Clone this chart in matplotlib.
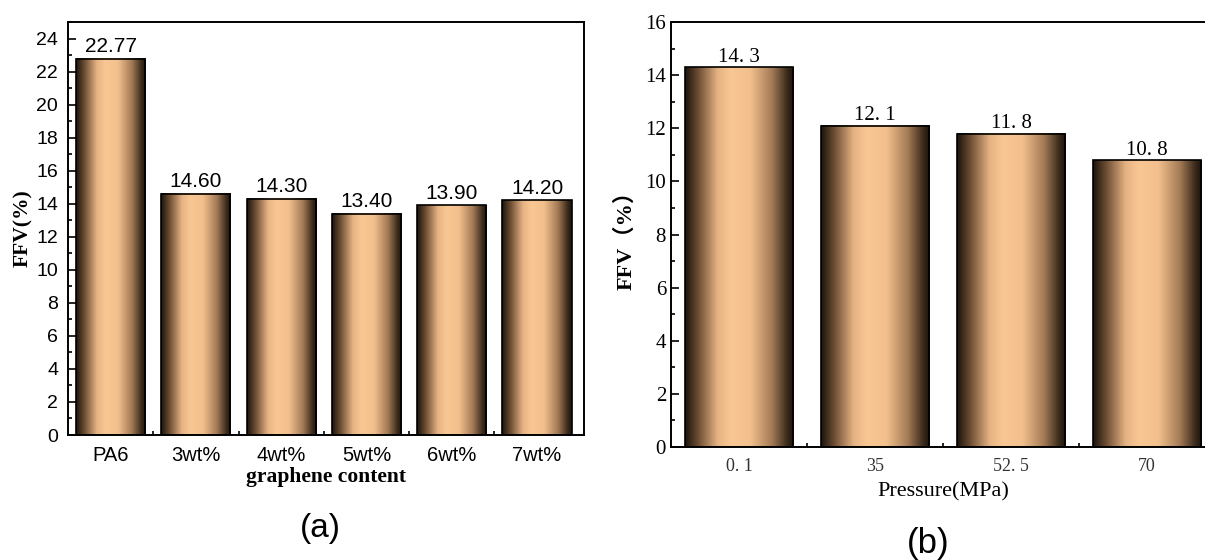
import numpy as np
import matplotlib
matplotlib.use("Agg")
import matplotlib.pyplot as plt
from matplotlib.colors import LinearSegmentedColormap
from matplotlib.ticker import MultipleLocator, FixedLocator

# (a) FFV vs graphene content
contents = ["PA6", "3wt%", "4wt%", "5wt%", "6wt%", "7wt%"]
ffv_content = [22.77, 14.60, 14.30, 13.40, 13.90, 14.20]

# (b) FFV vs pressure
pressures = ["0. 1", "35", "52. 5", "70"]
ffv_pressure = [14.3, 12.1, 11.8, 10.8]

# dark edge -> peach -> dark edge, gives the cylinder look
shade = LinearSegmentedColormap.from_list(
    "copper_tube",
    [(0.0, "#1c140c"), (0.12, "#6b4d33"), (0.30, "#e6b384"), (0.42, "#f9c793"),
     (0.60, "#f3c08d"), (0.80, "#a37b56"), (0.94, "#3b2a1b"), (1.0, "#1c140c")])
grad = np.linspace(0, 1, 256).reshape(1, -1)


def shaded_bars(ax, vals, width):
    x = np.arange(len(vals))
    bars = ax.bar(x, vals, width=width, facecolor="none", edgecolor="black",
                  linewidth=1.2, zorder=3)
    for b in bars:
        x0, w, h = b.get_x(), b.get_width(), b.get_height()
        ax.imshow(grad, cmap=shade, aspect="auto", extent=(x0, x0 + w, 0, h),
                  zorder=2, interpolation="bicubic")
    return bars


def style_axes(ax, n):
    ax.tick_params(which="both", direction="in", width=1.2)
    ax.tick_params(which="major", length=6)
    ax.tick_params(which="minor", length=3)
    ax.tick_params(axis="x", which="major", pad=8)
    # small ticks only between the bars
    ax.xaxis.set_minor_locator(FixedLocator(np.arange(n - 1) + 0.5))
    ax.yaxis.set_minor_locator(MultipleLocator(1))
    for s in ax.spines.values():
        s.set_linewidth(1.4)


fig = plt.figure(figsize=(12.05, 5.6), dpi=100)

# ---- panel (a)
ax1 = fig.add_axes([0.0564, 0.2232, 0.4282, 0.7375])
bars = shaded_bars(ax1, ffv_content, 0.81)
ax1.set_xlim(-0.5, 5.55)
ax1.set_ylim(0, 25)
ax1.yaxis.set_major_locator(MultipleLocator(2))
ax1.set_xticks(np.arange(len(contents)))
ax1.set_xticklabels(contents)
style_axes(ax1, len(contents))
ax1.tick_params(axis="y", which="major", pad=7)
for lab in ax1.get_yticklabels():
    lab.set_fontfamily("Liberation Sans")
    lab.set_fontsize(14)
for lab in ax1.get_xticklabels():
    lab.set_fontfamily("Liberation Sans")
    lab.set_fontsize(14.5)
for b, v in zip(bars, ffv_content):
    ax1.text(b.get_x() + b.get_width() / 2, v + 0.15, f"{v:.2f}", ha="center",
             va="bottom", fontsize=15, family="Liberation Sans")
ax1.set_xlabel("graphene content", family="Liberation Serif", weight="bold",
               fontsize=15.5, labelpad=1)
ax1.set_ylabel("FFV(%)", family="Liberation Serif", weight="bold", fontsize=15.5,
               labelpad=2)
fig.text(0.266, 0.057, "(a)", ha="center", va="center", fontsize=24,
         family="Liberation Sans")

# ---- panel (b)
ax2 = fig.add_axes([0.5568, 0.2018, 0.4515, 0.7589])
bars = shaded_bars(ax2, ffv_pressure, 0.8)
ax2.set_xlim(-0.5, 3.5)
ax2.set_ylim(0, 16)
ax2.yaxis.set_major_locator(MultipleLocator(2))
ax2.set_xticks(np.arange(len(pressures)))
ax2.set_xticklabels(pressures)
style_axes(ax2, len(pressures))
for lab in ax2.get_yticklabels():
    lab.set_fontfamily("Liberation Serif")
    lab.set_fontsize(15)
for lab in ax2.get_xticklabels():
    lab.set_fontfamily("Liberation Serif")
    lab.set_fontsize(13)
    lab.set_color("#333333")
for b, v in zip(bars, ffv_pressure):
    ax2.text(b.get_x() + b.get_width() / 2, v + 0.02,
             f"{v:.1f}".replace(".", ". "), ha="center", va="bottom",
             fontsize=15, family="Liberation Serif")
ax2.set_xlabel("Pressure(MPa)", family="Liberation Serif", fontsize=16, labelpad=5)
ax2.set_ylabel("FFV（%）", family=["Liberation Serif", "Noto Sans CJK SC"],
               weight="bold", fontsize=16, labelpad=6)
fig.text(0.770, 0.030, "(b)", ha="center", va="center", fontsize=25,
         family="Liberation Sans")

fig.savefig("out.png", dpi=100)
